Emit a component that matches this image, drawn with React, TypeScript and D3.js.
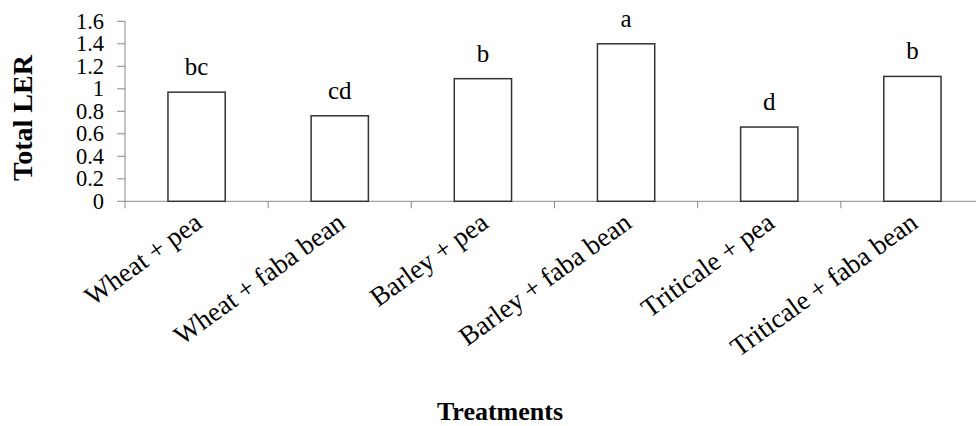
import React from "react";
import * as d3 from "d3";

const categories = [
  "Wheat + pea",
  "Wheat + faba bean",
  "Barley + pea",
  "Barley + faba bean",
  "Triticale + pea",
  "Triticale + faba bean",
];
const values = [0.97, 0.76, 1.09, 1.4, 0.66, 1.11];
const letters = ["bc", "cd", "b", "a", "d", "b"];
const yTicks = [0, 0.2, 0.4, 0.6, 0.8, 1, 1.2, 1.4, 1.6];

const W = 976;
const H = 426;
const x0 = 125;
const x1 = 984;
const yBottom = 201.3;
const yTop = 21.3;
const FONT = "'Liberation Serif', 'Times New Roman', serif";
const AXIS = "#898989";

export default function App() {
  const x = d3
    .scaleBand<string>()
    .domain(categories)
    .range([x0, x1])
    .paddingInner(0.6)
    .paddingOuter(0.3);
  const y = d3.scaleLinear().domain([0, 1.6]).range([yBottom, yTop]);
  const step = x.step();
  const boundaries = d3.range(categories.length + 1).map((i) => x0 + i * step);

  return (
    <svg
      width={W}
      height={H}
      style={{ position: "absolute", left: 0, top: 0, background: "#fff" }}
      fontFamily={FONT}
    >
      <rect x={0} y={0} width={W} height={H} fill="#fff" />
      {/* y axis */}
      <line x1={x0} x2={x0} y1={y(0)} y2={y(1.6)} stroke={AXIS} strokeWidth={1} />
      {yTicks.map((t) => (
        <g key={t}>
          <line x1={x0 - 8} x2={x0} y1={y(t)} y2={y(t)} stroke={AXIS} strokeWidth={1} />
          <text
            x={104}
            y={y(t)}
            dy="0.34em"
            textAnchor="end"
            fontSize={22.5}
            fill="#000"
          >
            {d3.format("~g")(t)}
          </text>
        </g>
      ))}
      {/* x axis */}
      <line x1={x0} x2={x1} y1={y(0)} y2={y(0)} stroke={AXIS} strokeWidth={1} />
      {boundaries.map((b, i) => (
        <line key={i} x1={b} x2={b} y1={y(0)} y2={y(0) + 7} stroke={AXIS} strokeWidth={1} />
      ))}
      {/* bars */}
      {categories.map((c, i) => (
        <rect
          key={c}
          x={x(c)!}
          y={y(values[i])}
          width={x.bandwidth()}
          height={y(0) - y(values[i])}
          fill="#fff"
          stroke="#333"
          strokeWidth={1.5}
        />
      ))}
      {/* significance letters */}
      {categories.map((c, i) => (
        <text
          key={c + "l"}
          x={x(c)! + x.bandwidth() / 2}
          y={y(values[i]) - 17}
          textAnchor="middle"
          fontSize={25}
          fill="#000"
        >
          {letters[i]}
        </text>
      ))}
      {/* category labels */}
      {categories.map((c) => {
        const cx = x(c)! + x.bandwidth() / 2 + 7;
        const cy = y(0) + 25;
        return (
          <text
            key={c + "c"}
            transform={`translate(${cx},${cy}) rotate(-36)`}
            textAnchor="end"
            fontSize={27}
            fill="#000"
          >
            {c}
          </text>
        );
      })}
      {/* axis titles */}
      <text
        transform={`translate(32,118) rotate(-90)`}
        textAnchor="middle"
        fontSize={28}
        fontWeight="bold"
        fill="#000"
      >
        Total LER
      </text>
      <text x={500} y={420} textAnchor="middle" fontSize={26} fontWeight="bold" fill="#000">
        Treatments
      </text>
    </svg>
  );
}
